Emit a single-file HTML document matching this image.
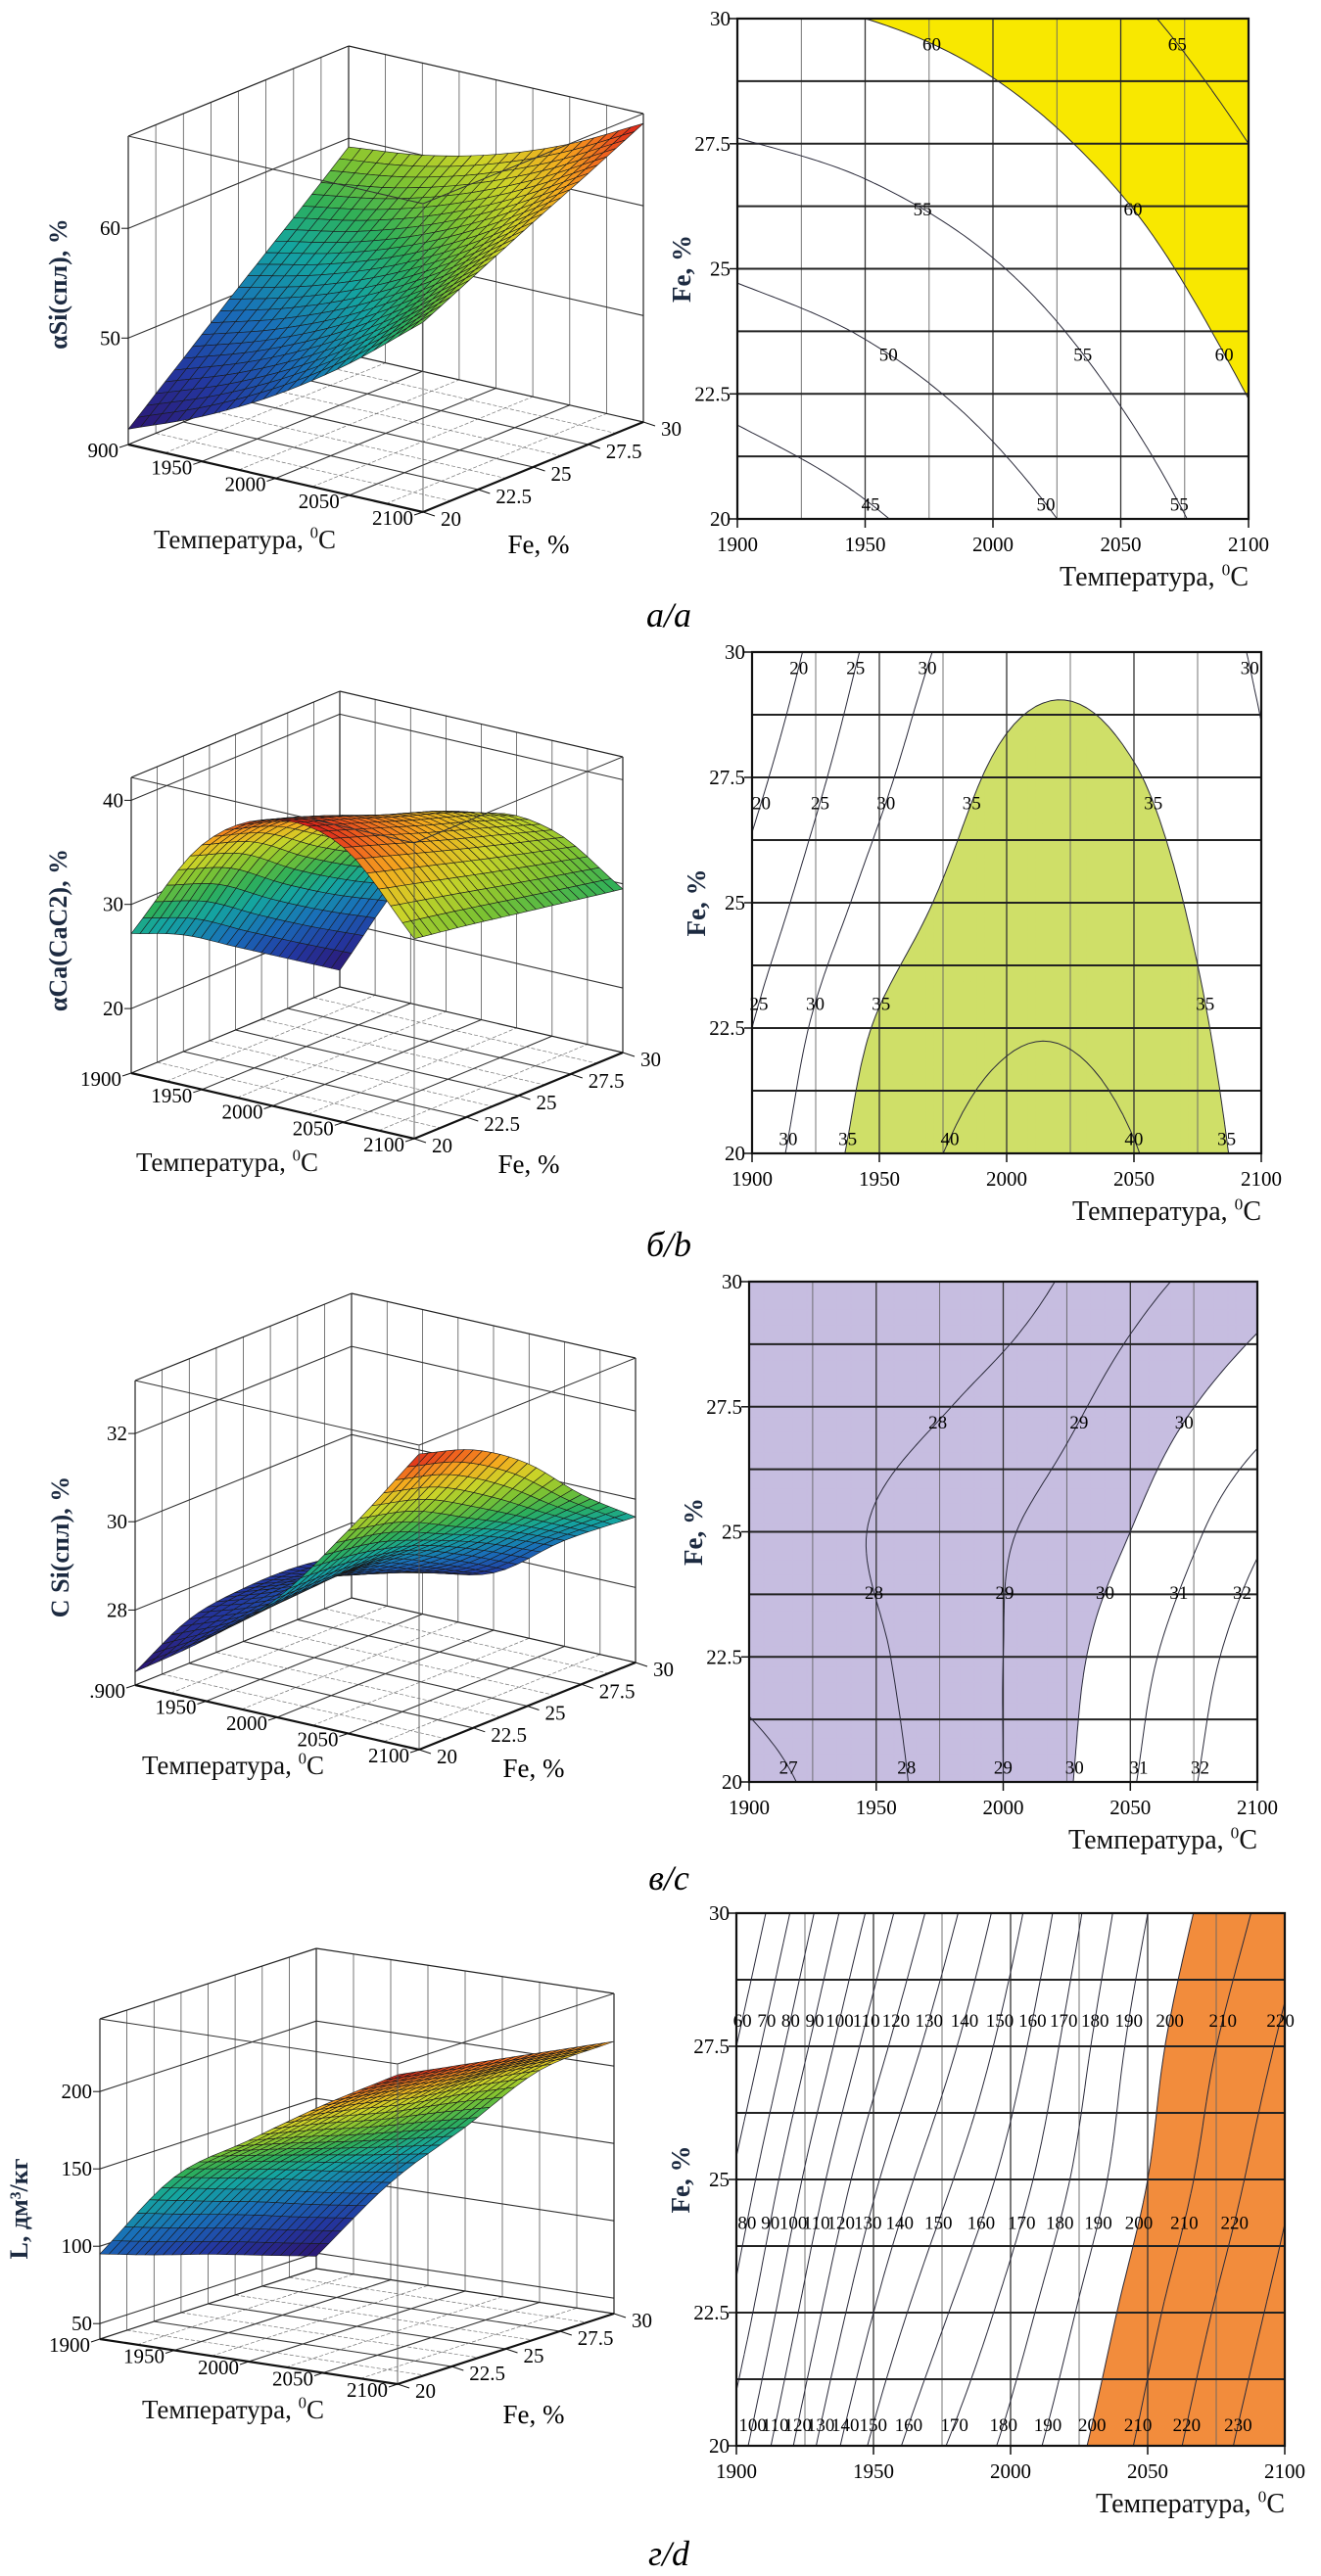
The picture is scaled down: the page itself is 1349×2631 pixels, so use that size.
<!DOCTYPE html>
<html><head><meta charset="utf-8"><title>Surface and contour plots</title>
<style>
html,body{margin:0;padding:0;background:#fff;}
svg{display:block;font-family:"Liberation Serif","DejaVu Serif",serif;}
</style></head>
<body>
<svg id="fig" width="1349" height="2631" viewBox="0 0 1349 2631" xmlns="http://www.w3.org/2000/svg">
<rect x="0" y="0" width="1349" height="2631" fill="#fff"/>
<text x="683" y="640" font-size="36" font-style="italic" text-anchor="middle">а/a</text>
<text x="683" y="1283" font-size="36" font-style="italic" text-anchor="middle">б/b</text>
<text x="683" y="1930" font-size="36" font-style="italic" text-anchor="middle">в/c</text>
<text x="683" y="2620" font-size="36" font-style="italic" text-anchor="middle">г/d</text>
</svg>
<script>
// ---------- data ----------
const tempTicks = [1900, 1950, 2000, 2050, 2100];
const feTicks = [20, 22.5, 25, 27.5, 30];
const feTickLabels = ['20', '22.5', '25', '27.5', '30'];
// grids: rows = Fe (20..30), columns = T (1900..2100)
const siGrid = [
  [41.7, 44.4, 47.9, 52.3, 57.6],
  [46.1, 48.3, 51.3, 55.3, 60.1],
  [50.5, 52.2, 54.7, 58.2, 62.6],
  [54.8, 56.1, 58.2, 61.2, 65.0],
  [59.2, 60.0, 61.6, 64.1, 67.5]
];
const caGrid = [
  [27.2, 37.3, 41.3, 40.2, 33.0],
  [25.0, 35.5, 39.6, 38.5, 32.2],
  [21.8, 32.0, 37.6, 36.8, 31.3],
  [18.6, 29.0, 35.8, 35.2, 30.4],
  [15.4, 26.5, 33.4, 33.6, 29.5]
];
const csiGrid = [
  [26.6, 27.7, 29.0, 30.9, 33.0],
  [27.3, 27.9, 29.0, 30.6, 32.6],
  [27.5, 28.05, 28.9, 30.0, 31.8],
  [27.5, 27.7, 28.3, 29.4, 30.6],
  [27.3, 27.3, 27.6, 28.7, 29.6]
];
const lGrid = [
  [95, 152, 183, 213, 240],
  [83, 140, 174, 207, 234],
  [72, 128, 164, 200, 228],
  [60, 115, 155, 196, 222],
  [48, 103, 146, 190, 216]
];
const siLevels = [45, 50, 55, 60, 65];
const caLevels = [20, 25, 30, 35, 40];
const csiLevels = [27, 28, 29, 30, 31, 32, 33];
const lLevels = [60, 70, 80, 90, 100, 110, 120, 130, 140, 150, 160, 170, 180, 190, 200, 210, 220, 230, 240];
const siZTicks = [50, 60];
const caZTicks = [20, 30, 40];
const csiZTicks = [28, 30, 32];
const lZTicks = [50, 100, 150, 200];
const temp3dLabelsSi = ['900', '1950', '2000', '2050', '2100'];
const temp3dLabels = ['1900', '1950', '2000', '2050', '2100'];
const temp3dLabelsCsi = ['.900', '1950', '2000', '2050', '2100'];

// ---------- helpers ----------
const NS = 'http://www.w3.org/2000/svg';
const svg = document.getElementById('fig');
function mk(tag, attrs, parent) {
  const e = document.createElementNS(NS, tag);
  for (const k in attrs) e.setAttribute(k, attrs[k]);
  (parent || svg).appendChild(e);
  return e;
}
function cr1(a, t) {
  const n = a.length;
  let u = t * (n - 1);
  let i = Math.floor(u); if (i > n - 2) i = n - 2; if (i < 0) i = 0;
  const s = u - i;
  const p1 = a[i], p2 = a[i + 1];
  const p0 = i > 0 ? a[i - 1] : 2 * p1 - p2;
  const p3 = i + 2 < n ? a[i + 2] : 2 * p2 - p1;
  return 0.5 * (2 * p1 + (-p0 + p2) * s + (2 * p0 - 5 * p1 + 4 * p2 - p3) * s * s + (-p0 + 3 * p1 - 3 * p2 + p3) * s * s * s);
}
function evalGrid(grid, tx, ty) {
  const col = grid.map(r => cr1(r, tx));
  return cr1(col, ty);
}
const cmapStops = [[0,[45,20,110]],[0.15,[35,55,160]],[0.3,[25,110,185]],[0.45,[20,165,160]],[0.55,[45,175,90]],[0.65,[125,195,50]],[0.75,[205,212,40]],[0.85,[245,170,30]],[0.93,[240,100,30]],[1,[215,25,25]]];
function cmap(v) {
  v = Math.max(0, Math.min(1, v));
  for (let k = 1; k < cmapStops.length; k++) {
    if (v <= cmapStops[k][0]) {
      const a = cmapStops[k - 1], b = cmapStops[k];
      const s = (v - a[0]) / (b[0] - a[0]);
      const c = a[1].map((x, i) => Math.round(x + (b[1][i] - x) * s));
      return 'rgb(' + c.join(',') + ')';
    }
  }
  return 'rgb(215,25,25)';
}
function tempLabel(parent, x, y, anchor, size) {
  const t = mk('text', {x: x, y: y, 'font-size': size, 'text-anchor': anchor, fill: '#111'}, parent);
  
  
  t.appendChild(document.createTextNode('Температура, '));
  const s1 = mk('tspan', {'font-size': size * 0.62, dy: -size * 0.38}, t);
  s1.textContent = '0';
  const s2 = mk('tspan', {dy: size * 0.38}, t);
  s2.textContent = 'C';
  return t;
}

// ---------- 3D surface ----------
function draw3D(c) {
  const g = mk('g', {}); 
  
  
  const T0 = tempTicks[0], T1 = tempTicks[tempTicks.length - 1];
  const F0 = feTicks[0], F1 = feTicks[feTicks.length - 1];
  function P(tx, ty, z) {
    const x = c.L[0] + (c.F[0] - c.L[0]) * tx + (c.R[0] - c.F[0]) * ty;
    const y = c.L[1] + (c.F[1] - c.L[1]) * tx + (c.R[1] - c.F[1]) * ty - (z - c.zmin) / (c.zmax - c.zmin) * c.H;
    return [x, y];
  }
  function line(a, b, w, col, dash, name) {
    const l = mk('line', {x1: a[0].toFixed(1), y1: a[1].toFixed(1), x2: b[0].toFixed(1), y2: b[1].toFixed(1), stroke: col, 'stroke-width': w}, g);
    if (dash) l.setAttribute('stroke-dasharray', dash);
    
    
  }
  const zt = c.zmax;
  // walls grid
  for (let k = 0; k <= 8; k++) {
    const t = k / 8;
    line(P(0, t, c.zmin), P(0, t, zt), 0.8, '#555', null, 'left-wall-gridline');
    line(P(t, 1, c.zmin), P(t, 1, zt), 0.8, '#555', null, 'right-wall-gridline');
  }
  c.zticks.forEach(z => {
    line(P(0, 0, z), P(0, 1, z), 1.1, '#333', null, 'z-gridline-left-wall');
    line(P(0, 1, z), P(1, 1, z), 1.1, '#333', null, 'z-gridline-right-wall');
  });
  // floor grid
  for (let k = 1; k < 8; k++) {
    const t = k / 8, major = k % 2 === 0;
    line(P(t, 0, c.zmin), P(t, 1, c.zmin), major ? 1.1 : 0.7, major ? '#333' : '#777', major ? null : '4,2', 'floor-gridline-temp');
    line(P(0, t, c.zmin), P(1, t, c.zmin), major ? 1.1 : 0.7, major ? '#333' : '#777', major ? null : '4,2', 'floor-gridline-fe');
  }
  // back box edges
  line(P(0, 0, c.zmin), P(0, 0, zt), 1.2, '#222', null, 'box-edge');
  line(P(0, 1, c.zmin), P(0, 1, zt), 1.2, '#222', null, 'box-edge');
  line(P(1, 1, c.zmin), P(1, 1, zt), 1.2, '#222', null, 'box-edge');
  line(P(0, 0, zt), P(0, 1, zt), 1.2, '#222', null, 'box-edge');
  line(P(0, 1, zt), P(1, 1, zt), 1.2, '#222', null, 'box-edge');
  line(P(0, 0, c.zmin), P(0, 1, c.zmin), 1.2, '#222', null, 'box-edge');
  line(P(0, 1, c.zmin), P(1, 1, c.zmin), 1.2, '#222', null, 'box-edge');
  // surface
  const N = 24;
  const Z = [];
  let zlo = Infinity, zhi = -Infinity;
  for (let j = 0; j <= N; j++) {
    Z.push([]);
    for (let i = 0; i <= N; i++) {
      const v = evalGrid(c.grid, i / N, j / N);
      Z[j].push(v);
      zlo = Math.min(zlo, v); zhi = Math.max(zhi, v);
    }
  }
  const quads = [];
  for (let j = 0; j < N; j++) for (let i = 0; i < N; i++) quads.push([i, j, (i + 0.5) / N - (j + 0.5) / N]);
  quads.sort((a, b) => a[2] - b[2]);
  const sg = mk('g', {stroke: '#1a1a1a', 'stroke-width': 0.6, 'stroke-linejoin': 'round'}, g);
  
  
  quads.forEach(([i, j]) => {
    const pts = [[i, j], [i + 1, j], [i + 1, j + 1], [i, j + 1]].map(([a, b]) => P(a / N, b / N, Z[b][a]));
    const avg = (Z[j][i] + Z[j][i + 1] + Z[j + 1][i] + Z[j + 1][i + 1]) / 4;
    const q = mk('polygon', {points: pts.map(p => p[0].toFixed(1) + ',' + p[1].toFixed(1)).join(' '), fill: cmap((avg - zlo) / (zhi - zlo))}, sg);
    
    
  });
  // front edges
  line(P(0, 0, zt), P(1, 0, zt), 1, '#333', null, 'box-edge-front');
  line(P(1, 0, zt), P(1, 1, zt), 1, '#333', null, 'box-edge-front');
  line(P(1, 0, c.zmin), P(1, 0, zt), 0.9, '#555', null, 'box-edge-front');
  line(P(0, 0, c.zmin), P(1, 0, c.zmin), 2.2, '#111', null, 'temperature-axis-line');
  line(P(1, 0, c.zmin), P(1, 1, c.zmin), 2.2, '#111', null, 'fe-axis-line');
  // ticks
  tempTicks.forEach((T, k) => {
    const p = P((T - T0) / (T1 - T0), 0, c.zmin);
    line(p, [p[0] - 9, p[1] + 3], 1, '#111', null, 'temperature-tick');
    const t = mk('text', {x: (p[0] - 10).toFixed(1), y: (p[1] + 13).toFixed(1), 'font-size': 21, 'text-anchor': 'end'}, g);
    
    
    t.textContent = c.tempLabels[k];
  });
  feTicks.forEach((f, k) => {
    const p = P(1, (f - F0) / (F1 - F0), c.zmin);
    line(p, [p[0] + 12, p[1] + 4], 1, '#111', null, 'fe-tick');
    const t = mk('text', {x: (p[0] + 18).toFixed(1), y: (p[1] + 14).toFixed(1), 'font-size': 21, 'text-anchor': 'start'}, g);
    
    
    t.textContent = feTickLabels[k];
  });
  c.zticks.forEach(z => {
    const p = P(0, 0, z);
    line(p, [p[0] - 7, p[1]], 1, '#111', null, 'z-tick');
    const t = mk('text', {x: (p[0] - 8).toFixed(1), y: (p[1] + 7).toFixed(1), 'font-size': 21, 'text-anchor': 'end'}, g);
    
    
    t.textContent = String(z);
  });
  tempLabel(g, c.tTitle[0], c.tTitle[1], 'middle', 27);
  const ft = mk('text', {x: c.fTitle[0], y: c.fTitle[1], 'font-size': 27, 'text-anchor': 'middle'}, g);
  
  
  ft.textContent = 'Fe, %';
  const zt2 = mk('text', {x: c.zTitle[0], y: c.zTitle[1], 'font-size': 26, 'font-weight': 'bold', 'text-anchor': 'middle', fill: '#1c2a40', transform: 'rotate(-90 ' + c.zTitle[0] + ' ' + c.zTitle[1] + ')'}, g);
  
  
  zt2.textContent = c.zLabel;
}

// ---------- contour plot ----------
function drawContour(c) {
  const g = mk('g', {});
  
  
  const [x0, y0, x1, y1] = c.rect;
  const N = 70;
  const V = [];
  for (let j = 0; j <= N; j++) { V.push([]); for (let i = 0; i <= N; i++) V[j].push(evalGrid(c.grid, i / N, j / N)); }
  const X = i => x0 + i / N * (x1 - x0);
  const Y = j => y1 - j / N * (y1 - y0);
  const inside = v => c.fillAbove ? v >= c.fillLevel : v <= c.fillLevel;
  // fill
  let d = '';
  for (let j = 0; j < N; j++) {
    for (let i = 0; i < N; i++) {
      const cs = [[i, j], [i + 1, j], [i + 1, j + 1], [i, j + 1]];
      const vs = cs.map(([a, b]) => V[b][a]);
      const ins = vs.map(inside);
      if (!ins.some(Boolean)) continue;
      const pts = [];
      for (let k = 0; k < 4; k++) {
        const k2 = (k + 1) % 4;
        if (ins[k]) pts.push([X(cs[k][0]), Y(cs[k][1])]);
        if (ins[k] !== ins[k2]) {
          const s = (c.fillLevel - vs[k]) / (vs[k2] - vs[k]);
          pts.push([X(cs[k][0] + (cs[k2][0] - cs[k][0]) * s), Y(cs[k][1] + (cs[k2][1] - cs[k][1]) * s)]);
        }
      }
      d += 'M' + pts.map(p => p[0].toFixed(1) + ' ' + p[1].toFixed(1)).join('L') + 'Z';
    }
  }
  const fp = mk('path', {d: d, fill: c.fillColor, stroke: c.fillColor, 'stroke-width': 0.7}, g);
  
  
  // grid
  for (let k = 1; k < 8; k++) {
    const x = x0 + k / 8 * (x1 - x0);
    const l = mk('line', {x1: x.toFixed(1), y1: y0, x2: x.toFixed(1), y2: y1, stroke: k % 2 ? '#666' : '#333', 'stroke-width': k % 2 ? 0.9 : 1.3}, g);
    
    
  }
  for (let k = 1; k < 8; k++) {
    const y = y0 + k / 8 * (y1 - y0);
    const l = mk('line', {x1: x0, y1: y.toFixed(1), x2: x1, y2: y.toFixed(1), stroke: '#222', 'stroke-width': 2}, g);
    
    
  }
  // contours
  c.levels.forEach(lv => {
    let cd = '';
    for (let j = 0; j < N; j++) for (let i = 0; i < N; i++) {
      const cs = [[i, j], [i + 1, j], [i + 1, j + 1], [i, j + 1]];
      const vs = cs.map(([a, b]) => V[b][a]);
      const pts = [];
      for (let k = 0; k < 4; k++) {
        const k2 = (k + 1) % 4;
        if ((vs[k] >= lv) !== (vs[k2] >= lv)) {
          const s = (lv - vs[k]) / (vs[k2] - vs[k]);
          pts.push([X(cs[k][0] + (cs[k2][0] - cs[k][0]) * s), Y(cs[k][1] + (cs[k2][1] - cs[k][1]) * s)]);
        }
      }
      for (let m = 0; m + 1 < pts.length; m += 2) cd += 'M' + pts[m][0].toFixed(1) + ' ' + pts[m][1].toFixed(1) + 'L' + pts[m + 1][0].toFixed(1) + ' ' + pts[m + 1][1].toFixed(1);
    }
    if (!cd) return;
    const cp = mk('path', {d: cd, fill: 'none', stroke: '#2a2a3a', 'stroke-width': 1}, g);
    
    
    c.labelRows.forEach(yf => {
      const M = 400;
      let prev = evalGrid(c.grid, 0, yf);
      for (let i = 1; i <= M; i++) {
        const v = evalGrid(c.grid, i / M, yf);
        if ((prev >= lv) !== (v >= lv)) {
          const tx = (i - 1 + (lv - prev) / (v - prev)) / M;
          const px = x0 + tx * (x1 - x0), py = y1 - yf * (y1 - y0);
          const t = mk('text', {x: px.toFixed(1), y: (py + 7).toFixed(1), 'font-size': 19, 'text-anchor': 'middle'}, g);
          
          
          t.textContent = String(lv);
        }
        prev = v;
      }
    });
  });
  // frame
  const fr = mk('rect', {x: x0, y: y0, width: x1 - x0, height: y1 - y0, fill: 'none', stroke: '#111', 'stroke-width': 2.2}, g);
  
  
  const T0 = tempTicks[0], T1 = tempTicks[tempTicks.length - 1];
  const F0 = feTicks[0], F1 = feTicks[feTicks.length - 1];
  tempTicks.forEach(T => {
    const x = x0 + (T - T0) / (T1 - T0) * (x1 - x0);
    const l = mk('line', {x1: x.toFixed(1), y1: y1, x2: x.toFixed(1), y2: y1 + 9, stroke: '#111', 'stroke-width': 1.5}, g);
    
    
    const t = mk('text', {x: x.toFixed(1), y: y1 + 33, 'font-size': 21, 'text-anchor': 'middle'}, g);
    
    
    t.textContent = String(T);
  });
  feTicks.forEach((f, k) => {
    const y = y1 - (f - F0) / (F1 - F0) * (y1 - y0);
    const l = mk('line', {x1: x0 - 8, y1: y.toFixed(1), x2: x0, y2: y.toFixed(1), stroke: '#111', 'stroke-width': 1.5}, g);
    
    
    const t = mk('text', {x: x0 - 7, y: (y + 7).toFixed(1), 'font-size': 21, 'text-anchor': 'end'}, g);
    
    
    t.textContent = feTickLabels[k];
  });
  const ym = (y0 + y1) / 2, xt = x0 - 48;
  const yt = mk('text', {x: xt, y: ym, 'font-size': 27, 'font-weight': 'bold', 'text-anchor': 'middle', fill: '#1c2a40', transform: 'rotate(-90 ' + xt + ' ' + ym + ')'}, g);
  
  
  yt.textContent = 'Fe, %';
  tempLabel(g, x1, y1 + 68, 'end', 28);
}

// ---------- layout ----------
draw3D({name: 'si', grid: siGrid, L: [131, 454], F: [432, 523], R: [657, 431], H: 315, zmin: 40.3, zmax: 68.4, zticks: siZTicks, tempLabels: temp3dLabelsSi, tTitle: [250, 560], fTitle: [550, 565], zTitle: [68, 290], zLabel: 'αSi(спл), %'});
drawContour({name: 'si', grid: siGrid, rect: [753, 19, 1275, 530], levels: siLevels, fillLevel: 60, fillAbove: true, fillColor: '#f8e800', labelRows: [0.03, 0.33, 0.62, 0.95]});

draw3D({name: 'ca', grid: caGrid, L: [134, 1096], F: [423, 1163], R: [636, 1075], H: 302, zmin: 13.8, zmax: 42.2, zticks: caZTicks, tempLabels: temp3dLabels, tTitle: [232, 1196], fTitle: [540, 1198], zTitle: [68, 950], zLabel: 'αCa(CaC2), %'});
drawContour({name: 'ca', grid: caGrid, rect: [768, 666, 1288, 1178], levels: caLevels, fillLevel: 35, fillAbove: true, fillColor: '#cfdf68', labelRows: [0.03, 0.3, 0.7, 0.97]});

draw3D({name: 'csi', grid: csiGrid, L: [138, 1721], F: [428, 1787], R: [649, 1698], H: 311, zmin: 26.3, zmax: 33.2, zticks: csiZTicks, tempLabels: temp3dLabelsCsi, tTitle: [238, 1812], fTitle: [545, 1815], zTitle: [70, 1580], zLabel: 'C Si(спл), %'});
drawContour({name: 'csi', grid: csiGrid, rect: [765, 1309, 1284, 1820], levels: csiLevels, fillLevel: 30, fillAbove: false, fillColor: '#c6bde0', labelRows: [0.03, 0.38, 0.72]});

draw3D({name: 'l', grid: lGrid, L: [102, 2389], F: [406, 2435], R: [627, 2363], H: 327, zmin: 40, zmax: 247, zticks: lZTicks, tempLabels: temp3dLabels, tTitle: [238, 2470], fTitle: [545, 2475], zTitle: [28, 2256], zLabel: 'L, дм³/кг'});
drawContour({name: 'l', grid: lGrid, rect: [752, 1954, 1312, 2498], levels: lLevels, fillLevel: 200, fillAbove: true, fillColor: '#f28c3c', labelRows: [0.04, 0.42, 0.8]});
</script>
</body></html>
